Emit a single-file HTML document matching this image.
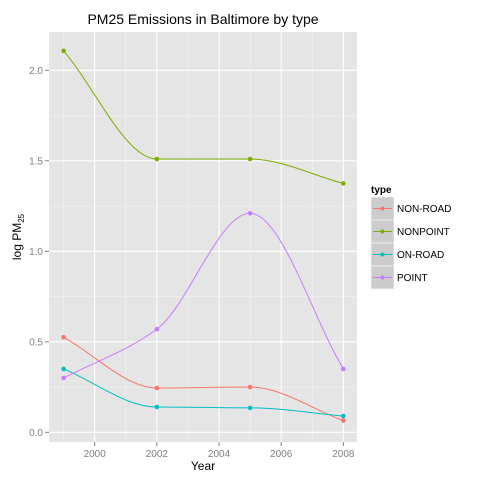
<!DOCTYPE html>
<html><head><meta charset="utf-8"><style>
body{margin:0;background:#fff;font-family:"Liberation Sans",sans-serif}
</style></head><body>
<svg id="chart" width="480" height="480" xmlns="http://www.w3.org/2000/svg" font-family="Liberation Sans, sans-serif">
<rect width="480" height="480" fill="#fff"/>
<g id="plot"></g>
</svg>
<script>
const years=[1999,2002,2005,2008];
const seriesNames=["NON-ROAD","NONPOINT","ON-ROAD","POINT"];
const nonRoad=[0.525,0.245,0.25,0.065];
const nonPoint=[2.107,1.51,1.51,1.375];
const onRoad=[0.35,0.14,0.135,0.09];
const point=[0.30,0.57,1.21,0.35];
const colors=["#F8766D","#7CAE00","#00BFC4","#C77CFF"];
const xTicks=[2000,2002,2004,2006,2008];
const yTicks=[0,0.5,1,1.5,2];
const L=49,R=357,T=32,B=442;
const sx=v=>94.7+(v-2000)*31.08;
const sy=v=>432.3-v*181;
const NS="http://www.w3.org/2000/svg";
const g=document.getElementById('plot');
function mk(t,a,p){const e=document.createElementNS(NS,t);for(const k in a)e.setAttribute(k,a[k]);(p||g).appendChild(e);return e;}
let e=mk('rect',{x:L,y:T,width:R-L,height:B-T,fill:'#E5E5E5'});


for(let i=0;i<xTicks.length;i++){const m=xTicks[i]-1;e=mk('line',{x1:sx(m),x2:sx(m),y1:T,y2:B,stroke:'#F2F2F2','stroke-width':0.6});

}
for(let i=0;i<yTicks.length-1;i++){const m=(yTicks[i]+yTicks[i+1])/2;e=mk('line',{x1:L,x2:R,y1:sy(m),y2:sy(m),stroke:'#F2F2F2','stroke-width':0.6});

}
xTicks.forEach(t=>{e=mk('line',{x1:sx(t),x2:sx(t),y1:T,y2:B,stroke:'#fff','stroke-width':1.1});


e=mk('line',{x1:sx(t),x2:sx(t),y1:B,y2:B+4,stroke:'#7F7F7F'});


e=mk('text',{x:sx(t),y:B+15,'text-anchor':'middle','font-size':10,fill:'#7F7F7F'});e.textContent=t;

});
yTicks.forEach(t=>{e=mk('line',{x1:L,x2:R,y1:sy(t),y2:sy(t),stroke:'#fff','stroke-width':1.1});


e=mk('line',{x1:L-4,x2:L,y1:sy(t),y2:sy(t),stroke:'#7F7F7F'});


e=mk('text',{x:L-6,y:sy(t)+3.5,'text-anchor':'end','font-size':10,fill:'#7F7F7F'});e.textContent=t.toFixed(1);

});
function path(vals){const p=years.map((y,i)=>[sx(y),sy(vals[i])]);const n=p.length;
const d=[];for(let i=0;i<n-1;i++)d.push((p[i+1][1]-p[i][1])/(p[i+1][0]-p[i][0]));
const m=[];m[0]=d[0];m[n-1]=d[n-2];
for(let i=1;i<n-1;i++){m[i]=(d[i-1]*d[i]<=0||Math.abs(d[i-1])<0.02||Math.abs(d[i])<0.02)?0:2/(1/d[i-1]+1/d[i]);}
let s=`M${p[0][0]},${p[0][1]}`;
for(let i=0;i<n-1;i++){const h=(p[i+1][0]-p[i][0])/3;
s+=`C${p[i][0]+h},${p[i][1]+m[i]*h} ${p[i+1][0]-h},${p[i+1][1]-m[i+1]*h} ${p[i+1][0]},${p[i+1][1]}`;}return s;}
[nonRoad,nonPoint,onRoad,point].forEach((vals,k)=>{
e=mk('path',{d:path(vals),fill:'none',stroke:colors[k],'stroke-width':1});


vals.forEach((v,i)=>{e=mk('circle',{cx:sx(years[i]),cy:sy(v),r:2.3,fill:colors[k]});

});});
e=mk('text',{x:203,y:24,'text-anchor':'middle','font-size':14});e.textContent='PM25 Emissions in Baltimore by type';


e=mk('text',{x:203,y:470,'text-anchor':'middle','font-size':12});e.textContent='Year';


e=mk('text',{transform:'translate(21,237) rotate(-90)','text-anchor':'middle','font-size':12});
e.innerHTML='log PM<tspan font-size="8" dy="3">25</tspan>';


e=mk('text',{x:371,y:193,'font-size':10,'font-weight':'bold'});e.textContent='type';


seriesNames.forEach((n,k)=>{const y0=197+k*23;
e=mk('rect',{x:371,y:y0,width:23,height:23,fill:'#CCCCCC',stroke:'#fff','stroke-width':0.5});


e=mk('line',{x1:373,x2:392,y1:y0+11.5,y2:y0+11.5,stroke:colors[k]});


e=mk('circle',{cx:382.5,cy:y0+11.5,r:2,fill:colors[k]});


e=mk('text',{x:397,y:y0+15,'font-size':10});e.textContent=n;

});
</script>
</body></html>
